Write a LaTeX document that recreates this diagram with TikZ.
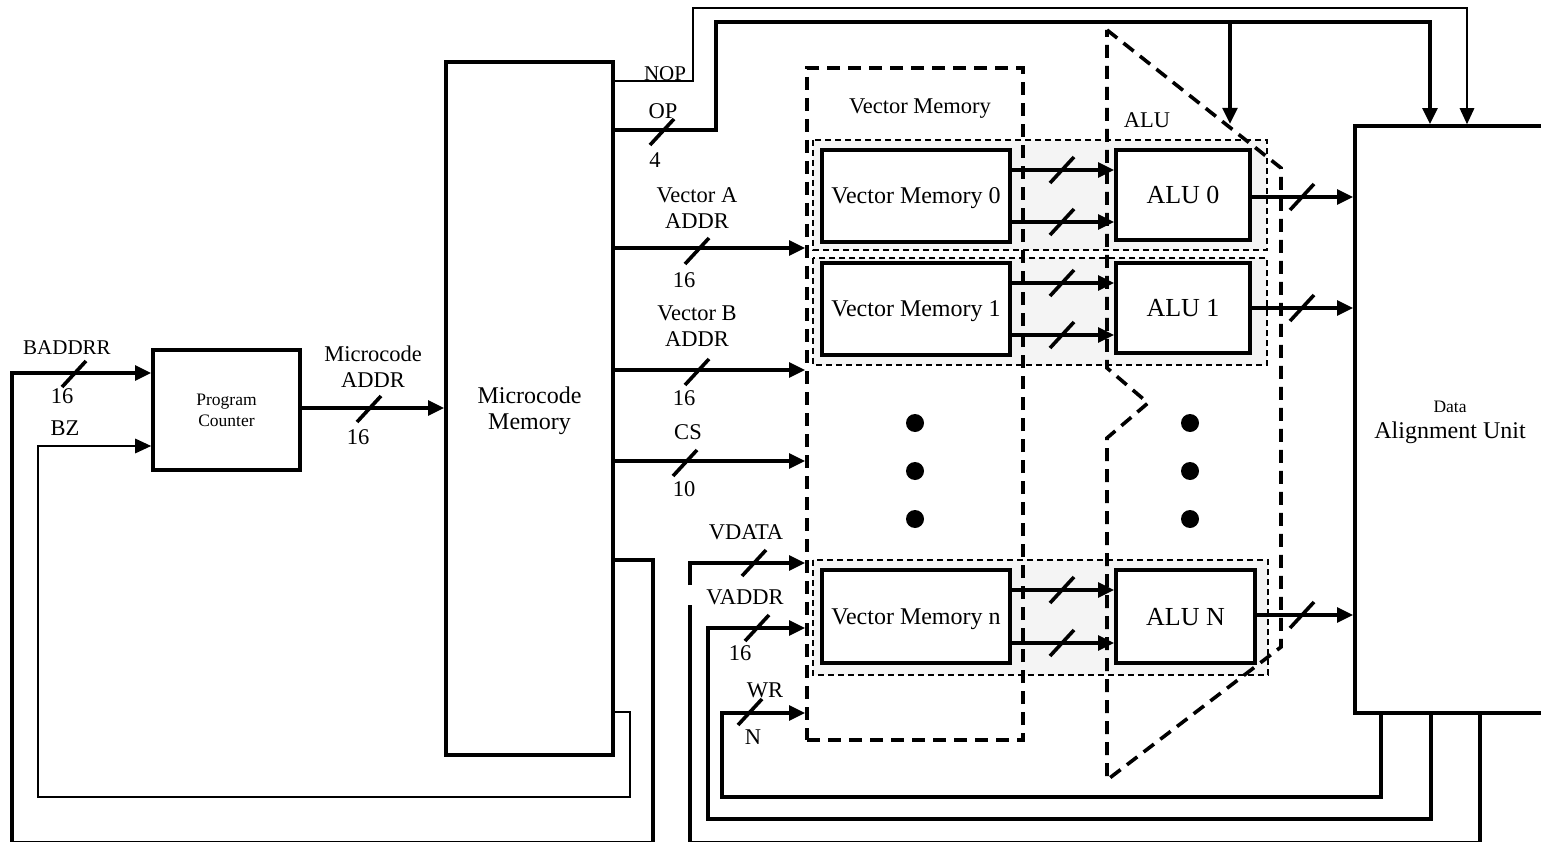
\documentclass[tikz,border=0pt]{standalone}
\usepackage{fontspec}
\setmainfont{Liberation Serif}
\usetikzlibrary{arrows.meta}
\newcommand\lbfont{\fontsize{22.5}{26}\selectfont}
\newcommand\bxfont{\fontsize{24}{26}\selectfont}
\newcommand\alfont{\fontsize{26}{28}\selectfont}
\newcommand\smfont{\fontsize{17.5}{21}\selectfont}
\begin{document}
\begin{tikzpicture}[x=1pt,y=-1pt,
  thk/.style={line width=3.6pt},
  thn/.style={line width=1.5pt},
  arr/.style={-{Triangle[length=16pt,width=14.5pt]}},
  blk/.style={draw,line width=3.6pt,fill=white,inner sep=0pt,font=\bxfont,align=center,text depth=0pt},
  lbl/.style={inner sep=0pt,font=\lbfont,align=center,text depth=0pt},
  rowbox/.style={draw,dash pattern=on 6pt off 4pt,line width=1.5pt,fill=gray!9},
  bigdash/.style={line width=3.6pt,dash pattern=on 13pt off 8pt},
  dotn/.style={circle,fill=black,inner sep=0pt,minimum size=18pt},
  bus/.pic={\draw[line width=3.6pt] (-12,13) -- (12,-13);}
]
\useasboundingbox (0,0) rectangle (1541,842);
\clip (0,0) rectangle (1541,842);

% row backgrounds
\draw[rowbox] (813,140) rectangle (1267,250);
\draw[rowbox] (813,258) rectangle (1267,365);
\draw[rowbox] (813,560) rectangle (1268,675);

% vector memory group
\node[draw,bigdash,minimum width=216pt,minimum height=672pt,inner sep=0pt] (vmem) at (915,404) {};
\node[lbl] (lvm) at (920,106) {Vector Memory};

% ALU group
\draw[bigdash] (1107,30) -- (1281,168) -- (1281,647) -- (1107,780) -- (1107,438) -- (1148,403) -- (1107,368) -- cycle;
\node[lbl] (lalu) at (1147,120) {ALU};

% blocks
\node[blk,minimum width=147pt,minimum height=120pt,font=\smfont] (pc) at (226.5,410) {Program\\Counter};
\node[blk,minimum width=167pt,minimum height=693pt] (mm) at (529.5,408.5) {Microcode\\Memory};
\node[blk,minimum width=190pt,minimum height=587pt] (dau) at (1450,419.5) {{\smfont Data}\\Alignment Unit};

\node[blk,minimum width=188pt,minimum height=92pt] (vm0) at (916,196) {Vector Memory 0};
\node[blk,minimum width=188pt,minimum height=92pt] (vm1) at (916,309) {Vector Memory 1};
\node[blk,minimum width=188pt,minimum height=93pt] (vmn) at (916,616.5) {Vector Memory n};
\node[blk,minimum width=134pt,minimum height=90pt,font=\alfont] (alu0) at (1183,195) {ALU 0};
\node[blk,minimum width=134pt,minimum height=90pt,font=\alfont] (alu1) at (1183,308) {ALU 1};
\node[blk,minimum width=139pt,minimum height=93pt,font=\alfont] (alun) at (1185.5,616.5) {ALU N};

% dots
\node[dotn] (d1) at (915,423) {};
\node[dotn] (d2) at (915,471) {};
\node[dotn] (d3) at (915,519) {};
\node[dotn] (d4) at (1190,423) {};
\node[dotn] (d5) at (1190,471) {};
\node[dotn] (d6) at (1190,519) {};

% VM -> ALU
\foreach \a/\b/\ya/\yb in {vm0/alu0/170/222, vm1/alu1/283/335, vmn/alun/590/643}{
  \draw[thk,arr] (\a.east|-0,\ya) -- (\b.west|-0,\ya);
  \draw[thk,arr] (\a.east|-0,\yb) -- (\b.west|-0,\yb);
  \pic at (1062,\ya) {bus};
  \pic at (1062,\yb) {bus};
}
% ALU -> DAU
\foreach \b/\y in {alu0/197, alu1/308, alun/615}{
  \draw[thk,arr] (\b.east|-0,\y) -- (dau.west|-0,\y);
  \pic at (1302,\y) {bus};
}

% NOP and OP
\coordinate (opj) at (1230,22);
\coordinate (aluop) at (1230,124);
\draw[thn,arr] (mm.east|-0,81) -- (693,81) -- (693,8) -- (1467,8) -- (dau.north-|1467,0);
\draw[thk,arr] (mm.east|-0,130) -- (716,130) -- (716,22) -- (1430,22) -- (dau.north-|1430,0);
\draw[thk,arr] (opj) -- (aluop);
\node[lbl,font=\fontsize{21}{24}\selectfont] (lnop) at (665,74) {NOP};
\node[lbl] (lop) at (663,111) {OP};
\node[lbl] (l4) at (655,160) {4};
\pic at (662,132) {bus};

% address / control lines into vector memory
\draw[thk,arr] (mm.east|-0,248) -- (vmem.west|-0,248);
\node[lbl] (lva) at (697,208) {Vector A\\ADDR};
\pic at (697,251) {bus};
\node[lbl] (l16a) at (684,280) {16};

\draw[thk,arr] (mm.east|-0,370) -- (vmem.west|-0,370);
\node[lbl] (lvb) at (697,326) {Vector B\\ADDR};
\pic at (697,372) {bus};
\node[lbl] (l16b) at (684,398) {16};

\draw[thk,arr] (mm.east|-0,461) -- (vmem.west|-0,461);
\node[lbl] (lcs) at (688,432) {CS};
\pic at (685,463) {bus};
\node[lbl] (l10) at (684,489) {10};

% program counter -> microcode memory
\draw[thk,arr] (pc.east|-0,408) -- (mm.west|-0,408);
\node[lbl] (lmc) at (373,367) {Microcode\\ADDR};
\pic at (369,409) {bus};
\node[lbl] (l16m) at (358,437) {16};

% BADDRR loop
\draw[thk,arr] (mm.east|-0,560) -- (653,560) -- (653,843) -- (12,843) -- (12,373) -- (pc.west|-0,373);
\node[lbl,font=\fontsize{21}{24}\selectfont] (lbaddr) at (67,348) {BADDRR};
\pic at (74,374) {bus};
\node[lbl] (l16p) at (62,396) {16};

% BZ loop
\draw[thn,arr] (mm.east|-0,712) -- (630,712) -- (630,797) -- (38,797) -- (38,446) -- (pc.west|-0,446);
\node[lbl] (lbz) at (65,428) {BZ};

% feedback loops from data alignment unit
\draw[thk,arr] (dau.south-|1381,0) -- (1381,797) -- (722,797) -- (722,713) -- (vmem.west|-0,713);
\node[lbl] (lwr) at (765,690) {WR};
\pic at (750,712) {bus};
\node[lbl] (ln) at (753,737) {N};

\draw[thk,arr] (dau.south-|1431,0) -- (1431,819) -- (708,819) -- (708,628) -- (vmem.west|-0,628);
\node[lbl] (lvaddr) at (745,597) {VADDR};
\pic at (757,628) {bus};
\node[lbl] (l16v) at (740,653) {16};

\coordinate (gapb) at (690,605);
\coordinate (gapt) at (690,585);
\draw[thk] (dau.south-|1480,0) -- (1480,843) -- (690,843) -- (gapb);
\draw[thk,arr] (gapt) -- (690,563) -- (vmem.west|-0,563);
\node[lbl] (lvdata) at (746,532) {VDATA};
\pic at (754,563) {bus};
\end{tikzpicture}
\end{document}
